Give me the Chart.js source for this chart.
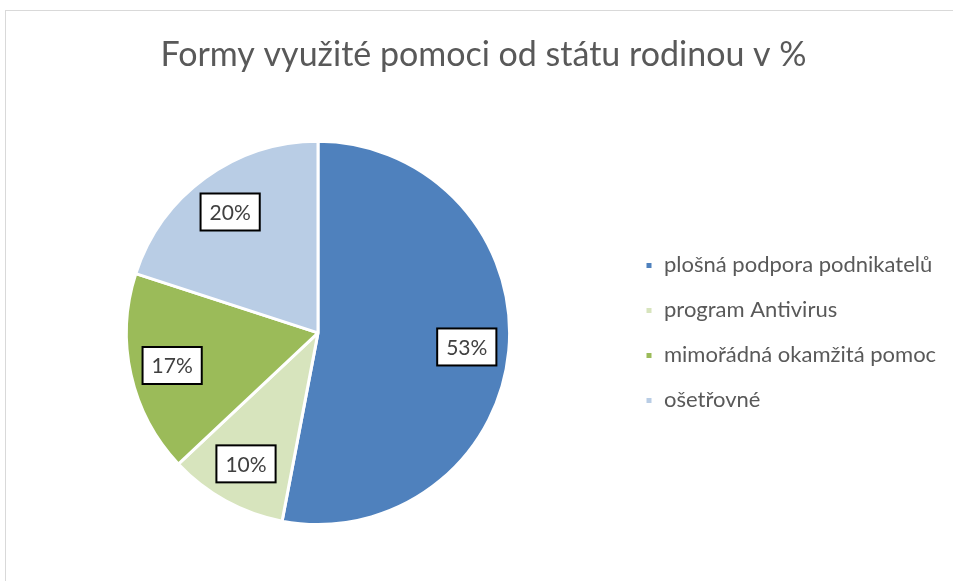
<!DOCTYPE html>
<html>
<head>
<meta charset="utf-8">
<script src="https://cdn.jsdelivr.net/npm/chart.js@4/dist/chart.umd.min.js"></script>
<style>
  html, body { margin: 0; padding: 0; background: #ffffff; }
  #wrap { position: relative; width: 953px; height: 581px; overflow: hidden; background: #fff; }
  #frame { position: absolute; left: 5px; top: 10px; width: 1000px; height: 640px; border: 1px solid #d9d9d9; box-sizing: border-box; }
  #c { position: absolute; left: 0; top: 0; }
</style>
</head>
<body>
<div id="wrap">
  <div id="frame"></div>
  <canvas id="c" width="953" height="581"></canvas>
</div>
<script>
const chartTitle = 'Formy využité pomoci od státu rodinou v %';
const categories = ['plošná podpora podnikatelů', 'program Antivirus', 'mimořádná okamžitá pomoc', 'ošetřovné'];
const shares = [53, 10, 17, 20];
const sliceColors = ['#4F81BD', '#D7E4BD', '#9BBB59', '#B9CDE5'];

const FONT = 'Lato, "Open Sans", "Noto Sans", sans-serif';

const legendPlacement = {
  id: 'legendPlacement',
  beforeLayout(chart) {
    const lg = chart.legend;
    if (lg && !lg._wPatched) {
      const orig = lg.fit;
      lg.fit = function () { orig.call(this); this.width = 331; };
      lg._wPatched = true;
    }
  },
  afterLayout(chart) {
    const lg = chart.legend;
    const ca = chart.chartArea;
    if (lg) {
      lg.top = ca.top;
      lg.bottom = ca.bottom;
      lg.height = ca.bottom - ca.top;
    }
  }
};

const boxLabels = {
  id: 'boxLabels',
  afterDatasetsDraw(chart) {
    const ctx = chart.ctx;
    const meta = chart.getDatasetMeta(0);
    const data = chart.data.datasets[0].data;
    const total = data.reduce((a, b) => a + b, 0);
    ctx.save();
    ctx.font = '21px ' + FONT;
    ctx.textAlign = 'center';
    ctx.textBaseline = 'middle';
    meta.data.forEach((arc, i) => {
      const p = arc.getProps(['x', 'y', 'startAngle', 'endAngle', 'outerRadius'], true);
      const mid = (p.startAngle + p.endAngle) / 2;
      const r = p.outerRadius * 0.78;
      const cx = p.x + Math.cos(mid) * r;
      const cy = p.y + Math.sin(mid) * r;
      const txt = Math.round(data[i] / total * 100) + '%';
      const w = ctx.measureText(txt).width + 18;
      const h = 37;
      ctx.fillStyle = '#ffffff';
      ctx.fillRect(cx - w / 2, cy - h / 2, w, h);
      ctx.lineWidth = 2;
      ctx.strokeStyle = '#000000';
      ctx.strokeRect(cx - w / 2, cy - h / 2, w, h);
      ctx.fillStyle = '#404040';
      ctx.fillText(txt, cx, cy + 1);
    });
    ctx.restore();
  }
};

new Chart(document.getElementById('c'), {
  type: 'pie',
  data: {
    labels: categories,
    datasets: [{
      data: shares,
      backgroundColor: sliceColors,
      borderColor: '#ffffff',
      borderWidth: 3,
      hoverOffset: 0
    }]
  },
  options: {
    responsive: false,
    animation: false,
    events: [],
    layout: { padding: { left: 14, right: 0, top: 0, bottom: 55 } },
    plugins: {
      title: {
        display: true,
        text: chartTitle,
        color: '#595959',
        font: { family: FONT, size: 34, weight: 'normal', lineHeight: 1.2 },
        padding: { top: 35, bottom: 64 }
      },
      legend: {
        position: 'right',
        align: 'center',
        labels: {
          boxWidth: 8,
          boxHeight: 8,
          padding: 23,
          color: '#595959',
          font: { family: FONT, size: 22 }
        }
      },
      tooltip: { enabled: false }
    }
  },
  plugins: [legendPlacement, boxLabels]
});
</script>
</body>
</html>
